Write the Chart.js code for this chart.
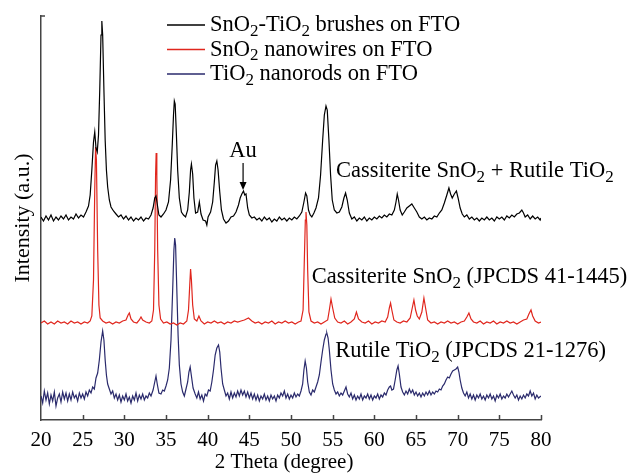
<!DOCTYPE html>
<html>
<head>
<meta charset="utf-8">
<script src="https://cdn.jsdelivr.net/npm/chart.js@4.4.1/dist/chart.umd.min.js"></script>
<style>
  html, body { margin: 0; padding: 0; background: #fff; }
  #wrap { width: 630px; height: 476px; }
</style>
</head>
<body>
<div id="wrap"><canvas id="xrd" width="630" height="476"></canvas></div>
<script>
// 2 theta / intensity pairs (intensity in arbitrary offset units)
const brushes = [
  [20.0,203],[20.3,199],[20.6,204],[20.9,200],[21.2,205],[21.5,199],[21.8,203],[22.1,200],[22.4,204],[22.7,201],
  [23.0,205],[23.3,200],[23.6,203],[23.9,201],[24.2,206],[24.5,202],[24.8,205],[25.1,203],[25.4,208],[25.7,214],
  [25.9,225],[26.1,250],[26.3,278],[26.45,288],[26.6,272],[26.75,268],[26.9,285],[27.05,330],[27.2,385],[27.3,399],
  [27.4,385],[27.55,330],[27.7,280],[27.85,250],[28.0,233],[28.2,220],[28.4,213],[28.7,209],[29.0,206],[29.3,203],
  [29.6,205],[29.9,201],[30.2,204],[30.5,200],[30.8,203],[31.1,199],[31.4,202],[31.7,200],[32.0,203],[32.3,199],
  [32.6,202],[32.9,201],[33.2,205],[33.45,212],[33.65,222],[33.8,224],[33.95,216],[34.15,205],[34.4,203],[34.7,206],
  [35.0,210],[35.3,218],[35.55,240],[35.75,275],[35.9,305],[36.0,319],[36.1,316],[36.25,285],[36.4,250],[36.6,222],
  [36.85,208],[37.1,205],[37.35,203],[37.6,210],[37.8,228],[37.95,250],[38.05,256],[38.2,246],[38.35,222],[38.55,207],
  [38.8,208],[39.0,218],[39.2,206],[39.45,200],[39.75,199],[39.9,195],[40.05,203],[40.35,208],[40.6,218],[40.8,238],
  [40.95,255],[41.1,259],[41.25,250],[41.45,228],[41.65,210],[41.9,201],[42.2,197],[42.5,199],[42.8,203],[43.1,204],
  [43.4,208],[43.7,215],[43.9,222],[44.1,226],[44.3,229],[44.45,225],[44.6,226],[44.8,212],[45.0,205],[45.3,202],
  [45.6,203],[45.9,200],[46.2,202],[46.5,199],[46.8,203],[47.1,200],[47.4,202],[47.7,198],[48.0,201],[48.3,199],
  [48.6,203],[48.9,200],[49.2,202],[49.5,199],[49.8,202],[50.1,200],[50.4,203],[50.7,201],[51.0,204],[51.3,208],
  [51.55,218],[51.75,227],[51.9,224],[52.1,210],[52.3,205],[52.5,203],[52.75,207],[53.0,212],[53.3,222],[53.55,245],
  [53.8,280],[54.0,305],[54.2,314],[54.35,310],[54.55,280],[54.75,245],[54.95,220],[55.2,210],[55.5,207],[55.8,208],
  [56.1,213],[56.35,222],[56.55,227],[56.75,220],[57.0,207],[57.3,201],[57.6,203],[57.9,199],[58.2,202],[58.5,200],
  [58.8,203],[59.1,199],[59.4,202],[59.7,200],[60.0,203],[60.3,201],[60.6,204],[60.9,202],[61.2,205],[61.5,203],
  [61.8,206],[62.1,205],[62.4,210],[62.6,218],[62.75,226],[62.9,220],[63.1,210],[63.35,205],[63.6,208],[63.9,212],
  [64.2,214],[64.5,216],[64.8,212],[65.1,208],[65.4,203],[65.7,201],[66.0,203],[66.3,200],[66.6,202],[66.9,201],
  [67.2,204],[67.5,203],[67.8,207],[68.1,210],[68.4,217],[68.7,225],[68.95,232],[69.15,226],[69.35,222],[69.6,226],
  [69.85,229],[70.05,222],[70.3,212],[70.55,206],[70.8,203],[71.1,205],[71.4,201],[71.7,203],[72.0,200],[72.3,202],
  [72.6,199],[72.9,202],[73.2,200],[73.5,203],[73.8,200],[74.1,202],[74.4,199],[74.7,203],[75.0,201],[75.3,203],
  [75.6,200],[75.9,204],[76.2,202],[76.5,205],[76.8,203],[77.1,206],[77.4,207],[77.7,210],[77.9,207],[78.1,203],
  [78.4,205],[78.7,201],[79.0,204],[79.3,201],[79.6,203],[79.9,200],[80.0,202]
];
const nanowires = [
  [20.0,97],[20.4,99],[20.8,96],[21.2,98],[21.6,96],[22.0,99],[22.4,97],[22.8,98],[23.2,96],[23.6,99],
  [24.0,97],[24.4,98],[24.8,96],[25.2,98],[25.6,97],[25.9,99],[26.1,104],[26.3,140],[26.45,230],[26.55,273],
  [26.65,260],[26.8,170],[26.95,115],[27.1,102],[27.4,99],[27.8,97],[28.2,98],[28.6,96],[29.0,98],[29.4,97],
  [29.8,99],[30.2,100],[30.45,105],[30.6,107],[30.8,101],[31.1,98],[31.5,97],[31.8,100],[32.0,103],[32.2,100],
  [32.6,98],[33.0,97],[33.3,99],[33.5,110],[33.65,170],[33.75,245],[33.82,267],[33.9,245],[34.0,170],[34.15,115],
  [34.35,101],[34.7,97],[35.1,98],[35.5,96],[35.9,97],[36.3,95],[36.7,97],[37.1,96],[37.5,99],[37.7,110],
  [37.85,135],[37.95,151],[38.05,140],[38.2,115],[38.4,101],[38.7,99],[38.95,104],[39.2,99],[39.6,96],[40.0,98],
  [40.4,97],[40.8,99],[41.2,97],[41.6,98],[42.0,96],[42.4,98],[42.8,97],[43.2,99],[43.6,98],[44.0,99],
  [44.4,100],[44.9,102],[45.3,99],[45.7,97],[46.1,98],[46.5,96],[46.9,98],[47.3,97],[47.7,99],[48.1,96],
  [48.5,98],[48.9,97],[49.3,99],[49.7,97],[50.1,98],[50.5,96],[50.9,98],[51.2,99],[51.45,110],[51.6,160],
  [51.72,200],[51.8,208],[51.9,195],[52.0,150],[52.15,108],[52.4,99],[52.8,97],[53.2,98],[53.6,96],[54.0,98],
  [54.4,100],[54.6,110],[54.8,121],[55.0,112],[55.25,102],[55.6,98],[56.0,97],[56.4,99],[56.8,96],[57.2,98],
  [57.6,101],[57.85,108],[58.1,101],[58.5,98],[58.9,97],[59.3,99],[59.7,96],[60.1,98],[60.5,97],[60.9,99],
  [61.3,98],[61.6,103],[61.8,112],[61.95,117],[62.1,110],[62.35,100],[62.7,98],[63.1,97],[63.5,99],[63.9,98],
  [64.3,102],[64.55,112],[64.75,120],[64.95,110],[65.15,104],[65.4,101],[65.7,108],[65.95,122],[66.15,112],[66.4,100],
  [66.8,97],[67.2,98],[67.6,96],[68.0,98],[68.4,97],[68.8,99],[69.2,97],[69.6,98],[70.0,96],[70.4,98],
  [70.8,99],[71.1,103],[71.35,107],[71.6,101],[71.9,98],[72.3,97],[72.7,99],[73.1,96],[73.5,98],[73.9,97],
  [74.3,99],[74.7,96],[75.1,98],[75.5,97],[75.9,99],[76.3,97],[76.7,98],[77.1,96],[77.5,98],[77.9,100],
  [78.3,101],[78.55,106],[78.8,110],[79.0,104],[79.3,99],[79.7,97],[80.0,98]
];
const nanorods = [
  [20.0,24],[20.2,17],[20.4,29],[20.6,20],[20.8,27],[21.0,16],[21.2,25],[21.4,19],[21.6,28],[21.8,14],
  [22.0,22],[22.2,26],[22.4,18],[22.6,28],[22.8,21],[23.0,27],[23.2,19],[23.4,26],[23.6,20],[23.8,28],
  [24.0,22],[24.2,25],[24.4,19],[24.6,27],[24.8,22],[25.0,26],[25.2,21],[25.4,28],[25.6,24],[25.8,30],
  [26.0,27],[26.2,33],[26.4,31],[26.6,42],[26.8,47],[27.0,60],[27.2,78],[27.4,89],[27.55,80],[27.7,60],
  [27.85,45],[28.0,36],[28.2,31],[28.4,26],[28.6,29],[28.8,22],[29.0,26],[29.2,20],[29.4,25],[29.6,18],
  [29.8,24],[30.0,20],[30.2,26],[30.4,19],[30.6,23],[30.8,17],[31.0,24],[31.2,20],[31.4,27],[31.6,19],
  [31.8,25],[32.0,21],[32.2,26],[32.4,20],[32.6,24],[32.8,22],[33.0,27],[33.2,24],[33.45,30],[33.65,38],
  [33.8,44],[33.95,36],[34.15,27],[34.4,26],[34.6,30],[34.8,29],[35.0,34],[35.2,40],[35.4,52],[35.6,80],
  [35.8,130],[35.95,170],[36.05,182],[36.15,175],[36.3,130],[36.45,85],[36.6,55],[36.8,36],[37.0,28],[37.2,24],
  [37.4,31],[37.6,38],[37.75,48],[37.9,53],[38.05,44],[38.25,32],[38.5,26],[38.7,22],[38.9,28],[39.1,21],
  [39.3,25],[39.5,19],[39.7,26],[39.9,24],[40.1,30],[40.3,29],[40.5,38],[40.7,50],[40.9,65],[41.1,72],
  [41.3,75],[41.45,68],[41.6,52],[41.8,36],[42.0,30],[42.2,24],[42.4,27],[42.6,21],[42.8,28],[43.0,22],
  [43.2,27],[43.4,23],[43.6,29],[43.8,24],[44.0,30],[44.2,25],[44.4,29],[44.6,23],[44.8,28],[45.0,22],
  [45.2,27],[45.4,21],[45.6,26],[45.8,20],[46.0,25],[46.2,19],[46.4,24],[46.6,21],[46.8,26],[47.0,20],
  [47.2,24],[47.4,19],[47.6,25],[47.8,21],[48.0,24],[48.2,19],[48.4,25],[48.6,22],[48.8,27],[49.0,24],
  [49.2,29],[49.4,22],[49.6,26],[49.8,21],[50.0,25],[50.2,22],[50.4,27],[50.6,23],[50.8,26],[51.0,24],
  [51.2,29],[51.4,36],[51.55,50],[51.7,59],[51.85,52],[52.0,38],[52.2,28],[52.4,25],[52.6,30],[52.8,28],
  [53.0,33],[53.2,38],[53.4,45],[53.6,58],[53.8,70],[54.0,80],[54.2,86],[54.3,87],[54.45,82],[54.6,70],
  [54.8,50],[55.0,36],[55.2,30],[55.4,26],[55.6,28],[55.8,24],[56.0,27],[56.2,25],[56.4,29],[56.6,33],
  [56.8,26],[57.0,23],[57.2,27],[57.4,21],[57.6,25],[57.8,20],[58.0,24],[58.2,21],[58.4,26],[58.6,20],
  [58.8,24],[59.0,22],[59.2,26],[59.4,21],[59.6,25],[59.8,20],[60.0,24],[60.2,22],[60.4,26],[60.6,21],
  [60.8,25],[61.0,23],[61.2,27],[61.4,25],[61.6,30],[61.8,33],[61.95,34],[62.1,30],[62.3,31],[62.5,40],
  [62.7,50],[62.85,54],[63.0,46],[63.2,33],[63.4,28],[63.6,25],[63.8,29],[64.0,26],[64.2,31],[64.4,27],
  [64.6,30],[64.8,25],[65.0,28],[65.2,24],[65.4,27],[65.6,23],[65.8,27],[66.0,24],[66.2,28],[66.4,25],
  [66.6,29],[66.8,25],[67.0,28],[67.2,26],[67.4,29],[67.6,28],[67.8,31],[68.0,30],[68.2,34],[68.4,36],
  [68.6,40],[68.8,43],[69.0,42],[69.2,46],[69.4,49],[69.6,50],[69.8,51],[70.0,53],[70.15,48],[70.3,40],
  [70.5,32],[70.7,27],[70.9,24],[71.1,28],[71.3,22],[71.5,26],[71.7,21],[71.9,25],[72.1,20],[72.3,25],
  [72.5,22],[72.7,26],[72.9,21],[73.1,24],[73.3,20],[73.5,25],[73.7,22],[73.9,26],[74.1,21],[74.3,24],
  [74.5,19],[74.7,25],[74.9,22],[75.1,26],[75.3,21],[75.5,24],[75.7,22],[75.9,26],[76.1,23],[76.3,26],
  [76.5,29],[76.7,25],[76.9,22],[77.1,25],[77.3,20],[77.5,24],[77.7,21],[77.9,25],[78.1,22],[78.3,26],
  [78.5,24],[78.7,29],[78.9,24],[79.1,27],[79.3,21],[79.5,25],[79.7,22],[80.0,24]
];

const seriesNames = ['SnO_2-TiO_2 brushes on FTO', 'SnO_2 nanowires on FTO', 'TiO_2 nanorods on FTO'];
const seriesColors = ['#000000', '#e0261d', '#2a2a6c'];
const xTicks = [20, 25, 30, 35, 40, 45, 50, 55, 60, 65, 70, 75, 80];

// phase labels next to each trace (x in degrees, y in intensity units)
const phaseLabels = [
  { text: 'Cassiterite SnO_2 + Rutile TiO_2', x: 55.4, y: 243 },
  { text: 'Cassiterite SnO_2 (JPCDS 41-1445)', x: 52.5, y: 137 },
  { text: 'Rutile TiO_2 (JPCDS 21-1276)', x: 55.3, y: 63 }
];
const auMark = { text: 'Au', x: 44.25, top: 257, tip: 230 };

const SERIF = '"Liberation Serif", "Times New Roman", serif';

// draws text where "_2" means a subscript 2
function richText(ctx, str, x, y, size, align) {
  const parts = str.split(/(_\d)/).filter(p => p.length);
  const subSize = Math.round(size * 0.74);
  let total = 0;
  parts.forEach(p => {
    ctx.font = (p[0] === '_' ? subSize : size) + 'px ' + SERIF;
    total += ctx.measureText(p[0] === '_' ? p.slice(1) : p).width;
  });
  let cx = align === 'center' ? x - total / 2 : x;
  ctx.textAlign = 'left';
  ctx.textBaseline = 'alphabetic';
  parts.forEach(p => {
    if (p[0] === '_') {
      ctx.font = subSize + 'px ' + SERIF;
      ctx.fillText(p.slice(1), cx, y + size * 0.22);
      cx += ctx.measureText(p.slice(1)).width;
    } else {
      ctx.font = size + 'px ' + SERIF;
      ctx.fillText(p, cx, y);
      cx += ctx.measureText(p).width;
    }
  });
}

const decorations = {
  id: 'decorations',
  afterDraw(chart) {
    const ctx = chart.ctx;
    const xs = chart.scales.x, ys = chart.scales.y;
    const area = chart.chartArea;
    ctx.save();

    // inward tick marks on the 2 theta axis + small cap at top of intensity axis
    ctx.strokeStyle = '#444';
    ctx.lineWidth = 1.5;
    ctx.beginPath();
    xTicks.slice(1).forEach(t => {
      const px = Math.round(xs.getPixelForValue(t)) + 0.5;
      ctx.moveTo(px, area.bottom);
      ctx.lineTo(px, area.bottom - 5);
    });
    ctx.moveTo(area.left, area.top);
    ctx.lineTo(area.left + 4, area.top);
    ctx.stroke();

    ctx.fillStyle = '#000';
    // legend
    seriesNames.forEach((name, i) => {
      const y = 25 + i * 24.5;
      ctx.strokeStyle = seriesColors[i];
      ctx.lineWidth = 1.5;
      ctx.beginPath();
      ctx.moveTo(167, y);
      ctx.lineTo(205, y);
      ctx.stroke();
      richText(ctx, name, 210, y + 6, 22.5, 'left');
    });

    // phase labels
    phaseLabels.forEach(l => {
      richText(ctx, l.text, xs.getPixelForValue(l.x), ys.getPixelForValue(l.y), 22.5, 'left');
    });

    // Au marker with arrow
    const ax = xs.getPixelForValue(auMark.x);
    richText(ctx, auMark.text, ax, ys.getPixelForValue(auMark.top) - 6, 22.5, 'center');
    const y0 = ys.getPixelForValue(auMark.top), y1 = ys.getPixelForValue(auMark.tip);
    ctx.strokeStyle = '#000';
    ctx.lineWidth = 1.2;
    ctx.beginPath();
    ctx.moveTo(ax, y0);
    ctx.lineTo(ax, y1 - 6);
    ctx.stroke();
    ctx.beginPath();
    ctx.moveTo(ax - 3.5, y1 - 8);
    ctx.lineTo(ax + 3.5, y1 - 8);
    ctx.lineTo(ax, y1);
    ctx.closePath();
    ctx.fill();

    // axis titles
    ctx.textAlign = 'center';
    ctx.textBaseline = 'alphabetic';
    ctx.font = '21px ' + SERIF;
    ctx.fillText('2 Theta (degree)', 284, 468);
    ctx.font = '22px ' + SERIF;
    ctx.translate(29, (area.top + area.bottom) / 2);
    ctx.rotate(-Math.PI / 2);
    ctx.fillText('Intensity (a.u.)', 0, 0);
    ctx.restore();
  }
};

const toPoints = arr => arr.map(p => ({ x: p[0], y: p[1] }));

new Chart(document.getElementById('xrd'), {
  type: 'line',
  data: {
    datasets: [brushes, nanowires, nanorods].map((arr, i) => ({
      label: seriesNames[i].replace(/_/g, ''),
      data: toPoints(arr),
      borderColor: seriesColors[i],
      borderWidth: 1.2,
      pointRadius: 0,
      tension: 0,
      fill: false
    }))
  },
  options: {
    responsive: false,
    devicePixelRatio: 1,
    animation: false,
    layout: { padding: { top: 16, right: 89, left: 0, bottom: 0 } },
    plugins: { legend: { display: false }, tooltip: { enabled: false } },
    scales: {
      x: {
        type: 'linear',
        min: 20,
        max: 80,
        afterFit: s => { s.height = 56; },
        afterBuildTicks: s => { s.ticks = xTicks.map(v => ({ value: v })); },
        grid: { display: false },
        border: { display: true, color: '#444', width: 1.5 },
        ticks: { color: '#000', padding: 0, font: { family: SERIF, size: 21 } }
      },
      y: {
        min: 0,
        max: 404,
        afterFit: s => { s.width = 41; },
        grid: { display: false },
        border: { display: true, color: '#444', width: 1.5 },
        ticks: { display: false }
      }
    }
  },
  plugins: [decorations]
});
</script>
</body>
</html>
